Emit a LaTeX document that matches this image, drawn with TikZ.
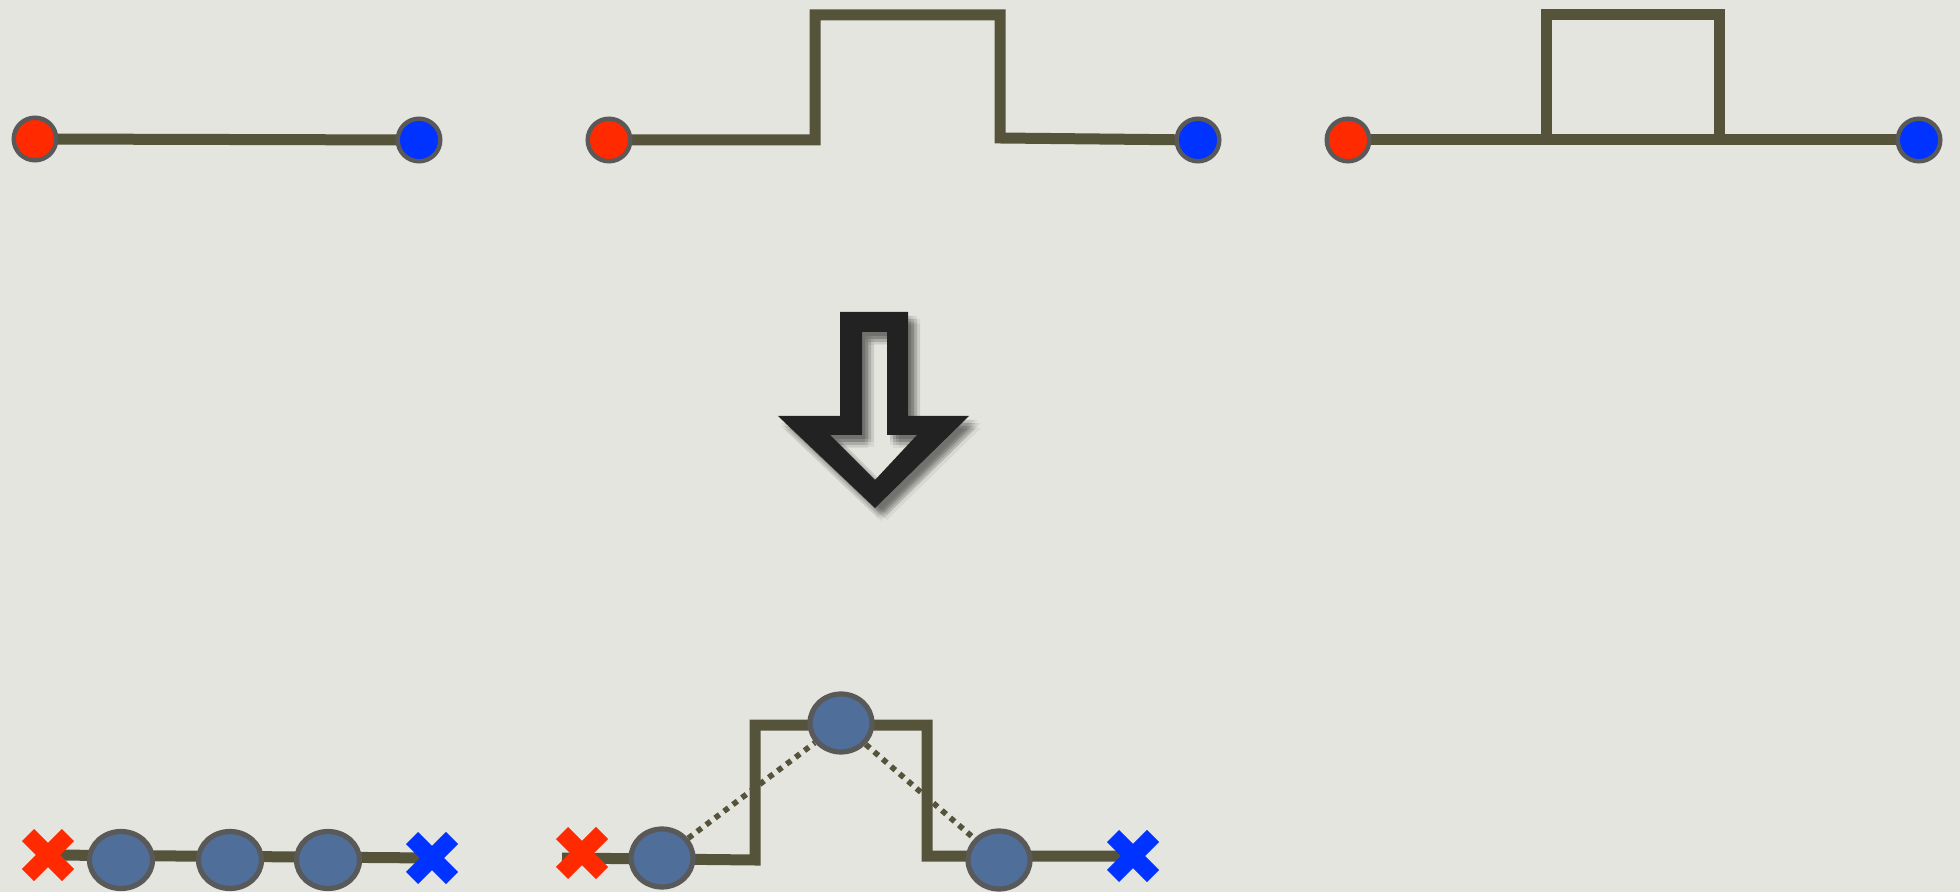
\documentclass[tikz,border=0pt]{standalone}
\usetikzlibrary{shapes.geometric,shapes.misc}
\definecolor{bgc}{HTML}{E5E5E0}
\definecolor{wire}{HTML}{55533A}
\definecolor{rim}{HTML}{595959}
\definecolor{redc}{HTML}{FF2A00}
\definecolor{bluec}{HTML}{0033FF}
\definecolor{beadc}{HTML}{4F6E99}
\definecolor{arrowc}{HTML}{222222}
\pgfdeclarelayer{bg}
\pgfdeclarelayer{lines}
\pgfsetlayers{bg,lines,main}
\tikzset{
  endpt/.style={circle, draw=rim, line width=2.2pt, inner sep=0pt, minimum size=21.3pt},
  bead/.style={ellipse, draw=rim, line width=2.6pt, fill=beadc, inner sep=0pt},
  xmark/.style={cross out, line width=8.5pt, inner sep=0pt, outer sep=0pt, minimum size=20pt},
  wireline/.style={draw=wire, line width=5.5pt},
  dotline/.style={draw=wire, line width=2.8pt, dash pattern=on 2.8pt off 2.8pt},
}
\begin{document}
\begin{tikzpicture}[x=0.5pt, y=-0.5pt]
\begin{pgfonlayer}{bg}
\fill[bgc] (0,0) rectangle (1960,892);
\end{pgfonlayer}
\useasboundingbox (0,0) rectangle (1960,892);

% ---------- top panel 1
\node[endpt, fill=redc] (r1) at (35,139) {};
\node[endpt, fill=bluec] (b1) at (419,140) {};
\begin{pgfonlayer}{lines}
\draw[wireline] (r1.center) -- (b1.center);
\end{pgfonlayer}

% ---------- top panel 2
\node[endpt, fill=redc] (r2) at (609,140) {};
\node[endpt, fill=bluec] (b2) at (1198,140) {};
\coordinate (s1) at (815,140);
\coordinate (s2) at (815,15);
\coordinate (s3) at (1000,15);
\coordinate (s4) at (1000,138);
\begin{pgfonlayer}{lines}
\draw[wireline] (r2.center) -- (s1) -- (s2) -- (s3) -- (s4) -- (b2.center);
\end{pgfonlayer}

% ---------- top panel 3
\node[endpt, fill=redc] (r3) at (1348,140) {};
\node[endpt, fill=bluec] (b3) at (1919,140) {};
\coordinate (q1) at (1546,139);
\coordinate (q2) at (1546,15);
\coordinate (q3) at (1719,15);
\coordinate (q4) at (1719,139);
\begin{pgfonlayer}{lines}
\draw[wireline] (r3.center) -- (b3.center);
\draw[wireline] (q1) -- (q2) -- (q3) -- (q4);
\end{pgfonlayer}

% ---------- hollow arrow with shadow
\foreach \dx/\dy in {3/4,6/4,9/4,3/7,6/7,9/7,3/10,6/10,9/10,6/13,12/7,12/12}{
  \fill[black, opacity=0.055, even odd rule, shift={(\dx,\dy)}]
    (840,312) -- (908,312) -- (908,416) -- (969,416) -- (875,508) -- (778,416) -- (840,416) -- cycle
    (862,332) -- (887,332) -- (887,435) -- (917,435) -- (875,480) -- (830,435) -- (862,435) -- cycle;
}
\fill[arrowc, even odd rule]
    (840,312) -- (908,312) -- (908,416) -- (969,416) -- (875,508) -- (778,416) -- (840,416) -- cycle
    (862,332) -- (887,332) -- (887,435) -- (917,435) -- (875,480) -- (830,435) -- (862,435) -- cycle;

% ---------- bottom left
\node[xmark, draw=redc] (xr1) at (48,855) {};
\node[xmark, draw=bluec] (xb1) at (432,858) {};
\node[bead, minimum width=31.5pt, minimum height=28.5pt] (n1) at (121,860) {};
\node[bead, minimum width=31.5pt, minimum height=28.5pt] (n2) at (230,860) {};
\node[bead, minimum width=31.5pt, minimum height=28.5pt] (n3) at (328,860) {};
\begin{pgfonlayer}{lines}
\draw[wireline] (xr1.center) -- (xb1.center);
\end{pgfonlayer}

% ---------- bottom middle
\node[xmark, draw=redc] (xr2) at (582,853) {};
\node[xmark, draw=bluec] (xb2) at (1133,856) {};
\node[bead, minimum width=31pt, minimum height=29pt] (m1) at (662,858) {};
\node[bead, minimum width=31pt, minimum height=29pt] (m2) at (841,723) {};
\node[bead, minimum width=31pt, minimum height=29pt] (m3) at (999,860) {};
\coordinate (t0) at (562,858);
\coordinate (t1) at (755,860);
\coordinate (t2) at (755,725);
\coordinate (t3) at (927,725);
\coordinate (t4) at (927,856);
\begin{pgfonlayer}{lines}
\draw[wireline] (t0) -- (t1) -- (t2) -- (t3) -- (t4) -- (xb2.center);
\draw[dotline] (m1) -- (m2);
\draw[dotline] (m2) -- (m3);
\end{pgfonlayer}
\end{tikzpicture}
\end{document}
